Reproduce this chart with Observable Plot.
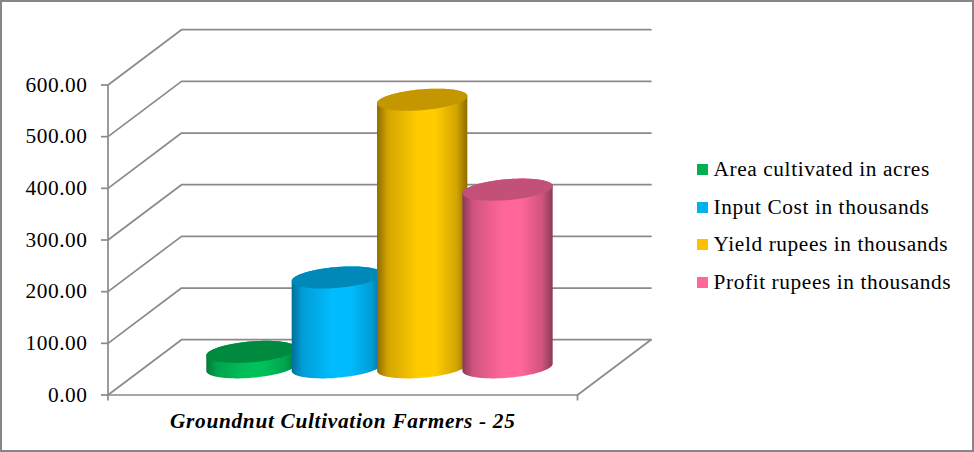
<!DOCTYPE html>
<html><head><meta charset="utf-8">
<script src="https://cdn.jsdelivr.net/npm/d3@7"></script>
<script src="https://cdn.jsdelivr.net/npm/@observablehq/plot@0.6"></script>
<style>
html,body{margin:0;padding:0;background:#fff;overflow:hidden}
#wrap{position:relative;width:974px;height:452px;font-family:"Liberation Serif",serif;color:#000}
#wrap svg{display:block;position:absolute;left:0;top:0;background:transparent}
#wrap svg text{letter-spacing:.68px}
#wrap svg g[aria-label="y-axis tick label"] text{letter-spacing:.55px}
#frame{position:absolute;inset:0;border:2px solid #868686;box-sizing:border-box;pointer-events:none}
#legend{position:absolute;left:697px;top:151px;font-size:21.33px;line-height:37.5px;white-space:nowrap;letter-spacing:.6px}
#legend .row{height:37.5px;display:flex;align-items:center}
#legend i{display:block;width:11px;height:11px;margin-right:5.5px}
</style></head><body>
<div id="wrap"><div id="frame"></div><div id="legend"></div></div>
<script>
const series = ["Area cultivated in acres","Input Cost in thousands","Yield rupees in thousands","Profit rupees in thousands"];
const values = [30,174,518,344];
const categoryLabel = "Groundnut Cultivation Farmers - 25";
const yTicks = [0,100,200,300,400,500,600];
const swatch = ["#00b050","#00b0f0","#ffc000","#ff6699"];
const sideBright = ["#00c05a","#00bcff","#ffcc00","#ff6699"];
const sideDark = ["#007a38","#006f99","#8f6b00","#8a3a58"];
const topFill = ["#008a3f","#0088b8","#c49600","#c25078"];

const slots = 5.5, gap = 0.75;
const depthX = 0.861, depthY = 107, k = 0.2;
const wallPath = [];
yTicks.forEach(v=>{
  wallPath.push({g:v,x:0,y:v},{g:v,x:depthX,y:v+depthY},{g:v,x:slots+depthX,y:v+depthY});
});
const floorEdge = [{x:0,y:0},{x:slots,y:0},{x:slots+depthX,y:depthY}];

const kx = k*depthX, ky = k*depthY, t0 = Math.atan2(kx,0.5);
function pt(cx,cy,t){return {x:cx+0.5*Math.cos(t)+kx*Math.sin(t),y:cy+ky*Math.sin(t)};}
function arc(cx,cy,a,b,n=60){return d3.range(n+1).map(i=>pt(cx,cy,a+(b-a)*i/n));}
const cyl = values.map((v,i)=>{
  const cx = gap+i+0.5+depthX/2, cy = depthY/2;
  return {
    body:[...arc(cx,cy,t0,t0-Math.PI),...arc(cx,cy+v,t0+Math.PI,t0)],
    top:arc(cx,cy+v,0,2*Math.PI,120)
  };
});

function defs(){
  const d = d3.create("svg:defs");
  values.forEach((_,i)=>{
    const g = d.append("linearGradient").attr("id","cyl"+i).attr("x1",0).attr("x2",1).attr("y1",0).attr("y2",0);
    [[0,sideDark[i]],[.12,d3.interpolateRgb(sideDark[i],sideBright[i])(.6)],[.45,sideBright[i]],[.65,sideBright[i]],[.88,d3.interpolateRgb(sideDark[i],sideBright[i])(.6)],[1,sideDark[i]]]
      .forEach(([o,c])=>g.append("stop").attr("offset",o).attr("stop-color",c));
  });
  return d.node();
}

const grid = "#8a8a8a";
const sw = 1.7;
const plot = Plot.plot({
  width:974,height:452,
  marginLeft:107.5,marginRight:397,marginTop:84.5,marginBottom:57.5,
  style:{fontFamily:'"Liberation Serif",serif',fontSize:"21.33px",background:"transparent",color:"#000"},
  x:{domain:[0,slots],axis:null},
  y:{domain:[0,600],axis:null},
  marks:[
    defs,
    Plot.line(wallPath,{x:"x",y:"y",z:"g",stroke:grid,strokeWidth:sw}),
    Plot.line(floorEdge,{x:"x",y:"y",stroke:grid,strokeWidth:sw}),
    Plot.ruleX([0],{y1:0,y2:600,stroke:grid,strokeWidth:sw}),
    Plot.axisY({ticks:yTicks,tickFormat:d3.format(".2f"),tickSize:6.5,tickPadding:14,stroke:grid,strokeWidth:sw,
      color:"#000",fill:"#000",label:null,fontSize:21.33}),
    Plot.axisX({ticks:[0,slots],tickSize:6,tickFormat:()=>"",stroke:grid,strokeWidth:sw,label:null}),
    ...cyl.flatMap((c,i)=>[
      Plot.line(c.body,{x:"x",y:"y",fill:`url(#cyl${i})`,stroke:"none"}),
      Plot.line(c.top,{x:"x",y:"y",fill:topFill[i],stroke:"none"})
    ]),
    Plot.text([categoryLabel],{x:slots/2,y:0,dy:26,text:d=>d,fontSize:21.33,fontWeight:"bold",fontStyle:"italic",fill:"#000",textAnchor:"middle"})
  ]
});
const wrap = document.getElementById("wrap");
wrap.insertBefore(plot,wrap.firstChild);
const lg = document.getElementById("legend");
series.forEach((s,i)=>{
  const r=document.createElement("div");r.className="row";
  const b=document.createElement("i");b.style.background=swatch[i];
  r.append(b,document.createTextNode(s));lg.append(r);
});
</script></body></html>
